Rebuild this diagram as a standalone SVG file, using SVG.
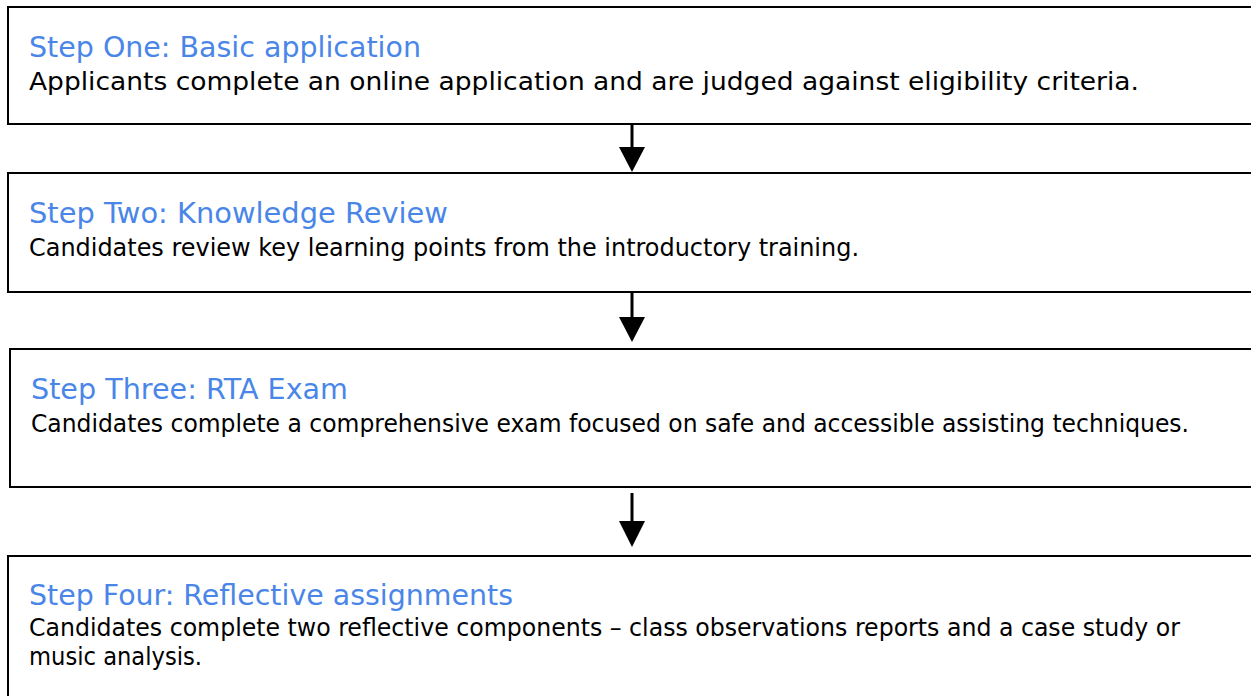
<svg xmlns="http://www.w3.org/2000/svg" width="1251" height="696" viewBox="0 0 1251 696">
<style>
.box{fill:#fff;stroke:#000;stroke-width:2}
.title{font-family:"DejaVu Sans","Liberation Sans",sans-serif;font-size:28px;fill:#4a86e8}
.body{font-family:"DejaVu Sans","Liberation Sans",sans-serif;font-size:24px;fill:#000}
.conn line{stroke:#000;stroke-width:3}
.conn polygon{fill:#000}
</style>
<rect width="1251" height="696" fill="#fff"/>
<g id="step1">
<rect class="box" x="8" y="7" width="1260" height="117"/>
<text class="title" x="29" y="57" textLength="392" lengthAdjust="spacingAndGlyphs">Step One: Basic application</text>
<text class="body" x="29" y="90" textLength="1110" lengthAdjust="spacingAndGlyphs">Applicants complete an online application and are judged against eligibility criteria.</text>
</g>
<g id="step2">
<rect class="box" x="8" y="173" width="1260" height="119"/>
<text class="title" x="29" y="223" textLength="419" lengthAdjust="spacingAndGlyphs">Step Two: Knowledge Review</text>
<text class="body" x="29" y="256" textLength="830" lengthAdjust="spacingAndGlyphs">Candidates review key learning points from the introductory training.</text>
</g>
<g id="step3">
<rect class="box" x="10" y="349" width="1260" height="138"/>
<text class="title" x="31" y="399" textLength="317" lengthAdjust="spacingAndGlyphs">Step Three: RTA Exam</text>
<text class="body" x="31" y="432" textLength="1158" lengthAdjust="spacingAndGlyphs">Candidates complete a comprehensive exam focused on safe and accessible assisting techniques.</text>
</g>
<g id="step4">
<rect class="box" x="8" y="556" width="1260" height="160"/>
<text class="title" x="29" y="605" textLength="484" lengthAdjust="spacingAndGlyphs">Step Four: Reflective assignments</text>
<text class="body" x="29" y="636" textLength="1151" lengthAdjust="spacingAndGlyphs">Candidates complete two reflective components – class observations reports and a case study or</text>
<text class="body" x="29" y="665" textLength="173" lengthAdjust="spacingAndGlyphs">music analysis.</text>
</g>
<g id="connectors" class="conn">
<line x1="632" y1="124" x2="632" y2="148"/>
<polygon points="619,147 645,147 632,172"/>
<line x1="632" y1="292" x2="632" y2="318"/>
<polygon points="619,317 645,317 632,342"/>
<line x1="632" y1="493" x2="632" y2="522"/>
<polygon points="619,521 645,521 632,547"/>
</g>
</svg>
